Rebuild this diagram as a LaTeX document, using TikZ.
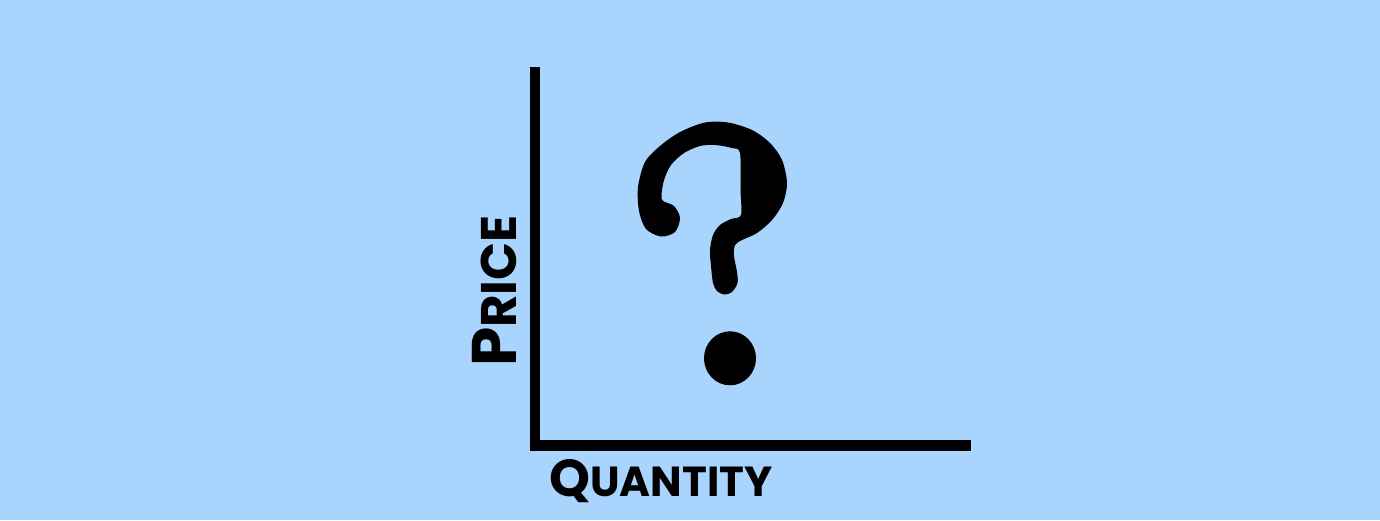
\documentclass[tikz,border=0pt]{standalone}
\usepackage{fontspec}
\usetikzlibrary{shapes.geometric}
\setmainfont{Poppins}
\definecolor{bgblue}{HTML}{A8D4FE}
\tikzset{
  axis/.style={line width=10.5pt, line join=miter, line cap=butt, black},
  axlabel/.style={inner sep=0pt, text=black, font=\bfseries},
  ink/.style={fill=black, draw=none}
}
\begin{document}
\begin{tikzpicture}[x=1pt,y=-1pt]
\useasboundingbox[fill=bgblue] (0,0) rectangle (1380,520);
\coordinate (ytop) at (535,67);
\coordinate (origin) at (535,445.5);
\coordinate (xend) at (971,445.5);
\draw[axis] (ytop) -- (origin) -- (xend);
\node[axlabel, rotate=90, anchor=center] (price) at (495,291)
  {\fontsize{63}{63}\selectfont P\fontsize{50}{50}\selectfont RICE};
\node[axlabel, anchor=center] (quantity) at (661,481)
  {\fontsize{52}{52}\selectfont Q\fontsize{42}{42}\selectfont UANTITY};
% question mark
\fill[ink] plot[smooth cycle, tension=0.5] coordinates {
 (646,229) (639,211) (638,187) (645,162) (660,146) (680,132) (705,122.5)
 (728,122.5) (752,130) (770,143) (782,160) (787,183) (783,203) (772,220)
 (757,233) (742,240) (735,245) (734,256) (737,272) (737.5,283) (732,292)
 (724,294.5) (717,291) (713,283) (711,266) (710,250) (713,235) (720,225)
 (731,219) (741,215) (740.5,190) (740,153) (732,148) (715,145) (700,146)
 (684,153) (671,165) (664,180) (661.5,195) (663,201) (674,206) (680,218)
 (675,232) (661,236.5)};
\node[ink, ellipse, minimum width=52pt, minimum height=54pt, inner sep=0pt] (dot) at (730,358.3) {};
\end{tikzpicture}
\end{document}
